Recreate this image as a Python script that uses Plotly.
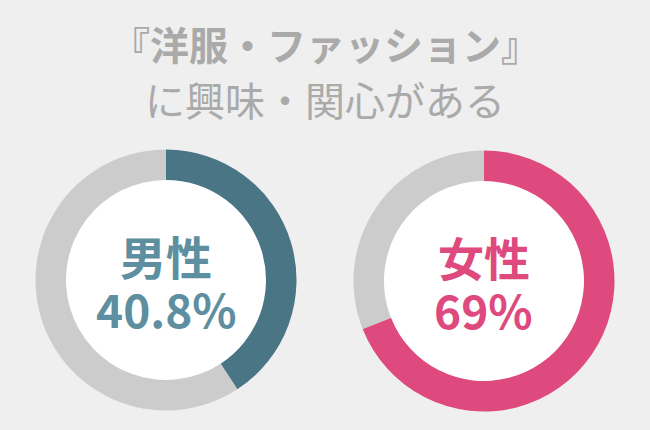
import plotly.graph_objects as go

# data
groups = ["男性", "女性"]
shares = [40.8, 69.0]
share_labels = ["40.8%", "69%"]
title_lines = ["『洋服・ファッション』", "に興味・関心がある"]

ring_colors = ["#4a7585", "#df4a7e"]
text_colors = ["#5e8fa0", "#df4a7e"]
rest_color = "#cccccc"
bg = "#efefef"
font = "Noto Sans CJK JP"

W, H = 650, 430
centers = [(166, 280), (484, 281)]  # pixel centers of the rings
R_OUT, R_IN = 130.5, 100


def note(x, y, text, size, color):
    return dict(x=x / W, y=1 - y / H, xref="paper", yref="paper",
                xanchor="center", yanchor="middle", text=text, showarrow=False,
                font=dict(family=font, size=size, color=color))


fig = go.Figure()
shapes = []
annotations = []
for i, (name, val) in enumerate(zip(groups, shares)):
    cx, cy = centers[i]
    fig.add_trace(go.Pie(
        values=[val, 100 - val],
        labels=[name, "その他"],
        sort=False,
        direction="clockwise",
        rotation=0,
        hole=R_IN / R_OUT,
        marker=dict(colors=[ring_colors[i], rest_color], line=dict(width=0)),
        textinfo="none",
        hoverinfo="skip",
        showlegend=False,
        domain=dict(x=[(cx - R_OUT) / W, (cx + R_OUT) / W],
                    y=[1 - (cy + R_OUT) / H, 1 - (cy - R_OUT) / H]),
    ))
    # white disc inside the hole
    shapes.append(dict(type="circle", xref="paper", yref="paper", layer="below",
                       x0=(cx - R_IN - 2) / W, x1=(cx + R_IN + 2) / W,
                       y0=1 - (cy + R_IN + 2) / H, y1=1 - (cy - R_IN - 2) / H,
                       fillcolor="white", line=dict(width=0)))
    annotations.append(note(cx, cy - 25, "<b>" + name + "</b>", 46, text_colors[i]))
    annotations.append(note(cx, cy + 28, "<b>" + share_labels[i] + "</b>", 46, text_colors[i]))

annotations.append(note(325, 43, "<b>" + title_lines[0] + "</b>", 39, "#aaaaaa"))
annotations.append(note(325, 99, title_lines[1], 40, "#aaaaaa"))

fig.update_layout(width=W, height=H, autosize=False,
                  margin=dict(l=0, r=0, t=0, b=0),
                  paper_bgcolor=bg, plot_bgcolor=bg,
                  shapes=shapes, annotations=annotations)
fig.write_html("out.html", config={"displayModeBar": False},
               post_script="document.body.style.margin='0';")
